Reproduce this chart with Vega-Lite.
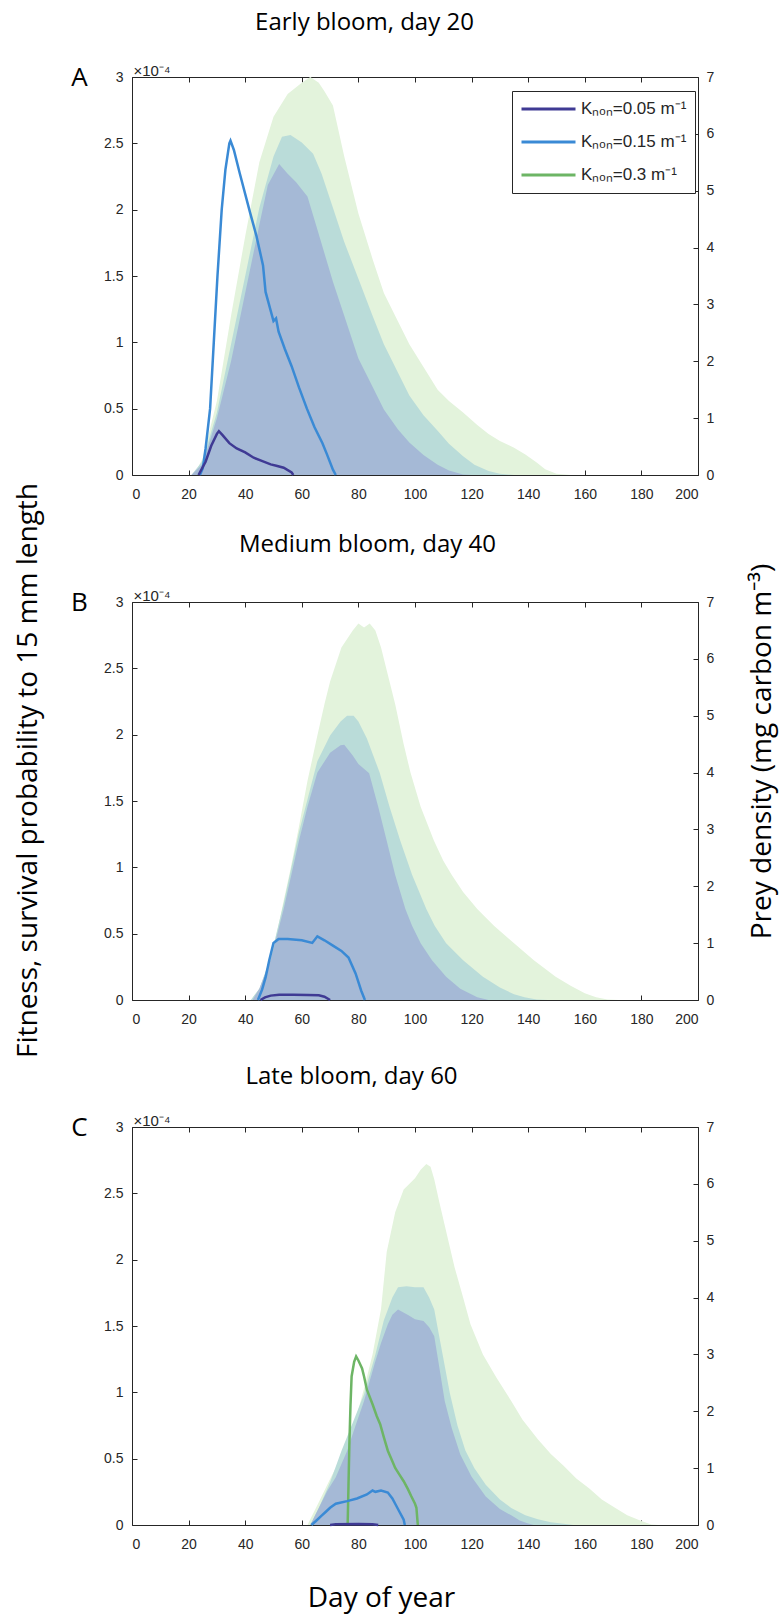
{
  "$schema": "https://vega.github.io/schema/vega-lite/v6.json",
  "background": "white",
  "padding": {"left": 13, "top": 10, "right": 6, "bottom": 4},
  "bounds": "flush",
  "spacing": 127,
  "resolve": {"scale": {"color": "independent"}, "legend": {"color": "independent"}},
  "config": {
    "view": {"stroke": null},
    "axis": {"domainColor": "#262626", "tickColor": "#262626", "labelColor": "#262626", "labelFont": "Liberation Sans", "labelFontSize": 14, "grid": false, "domainWidth": 1, "tickWidth": 1, "zindex": 1}
  },
  "datasets": {
    "preyA": [
      {"K":"0.3","day":0,"prey":0},{"K":"0.3","day":20,"prey":0},{"K":"0.3","day":22,"prey":0},{"K":"0.3","day":25,"prey":0.3},{"K":"0.3","day":30,"prey":1.3},{"K":"0.3","day":35,"prey":2.8},{"K":"0.3","day":40,"prey":4.2},{"K":"0.3","day":45,"prey":5.5},{"K":"0.3","day":50,"prey":6.3},{"K":"0.3","day":55,"prey":6.7},{"K":"0.3","day":60,"prey":6.9},{"K":"0.3","day":63,"prey":7.0},{"K":"0.3","day":66,"prey":6.9},{"K":"0.3","day":68,"prey":6.75},{"K":"0.3","day":71,"prey":6.5},{"K":"0.3","day":75,"prey":5.6},{"K":"0.3","day":80,"prey":4.6},{"K":"0.3","day":85,"prey":3.8},{"K":"0.3","day":89,"prey":3.2},{"K":"0.3","day":94,"prey":2.7},{"K":"0.3","day":98,"prey":2.3},{"K":"0.3","day":103,"prey":1.9},{"K":"0.3","day":108,"prey":1.5},{"K":"0.3","day":112,"prey":1.3},{"K":"0.3","day":117,"prey":1.1},{"K":"0.3","day":122,"prey":0.88},{"K":"0.3","day":126,"prey":0.72},{"K":"0.3","day":130,"prey":0.6},{"K":"0.3","day":135,"prey":0.48},{"K":"0.3","day":139,"prey":0.36},{"K":"0.3","day":143,"prey":0.22},{"K":"0.3","day":146,"prey":0.1},{"K":"0.3","day":150,"prey":0.02},{"K":"0.3","day":155,"prey":0},{"K":"0.3","day":200,"prey":0},
      {"K":"0.15","day":0,"prey":0},{"K":"0.15","day":21,"prey":0},{"K":"0.15","day":25,"prey":0.25},{"K":"0.15","day":30,"prey":1.1},{"K":"0.15","day":35,"prey":2.3},{"K":"0.15","day":40,"prey":3.5},{"K":"0.15","day":45,"prey":4.7},{"K":"0.15","day":50,"prey":5.6},{"K":"0.15","day":53,"prey":5.95},{"K":"0.15","day":56,"prey":5.98},{"K":"0.15","day":60,"prey":5.85},{"K":"0.15","day":64,"prey":5.65},{"K":"0.15","day":67,"prey":5.3},{"K":"0.15","day":71,"prey":4.7},{"K":"0.15","day":75,"prey":4.1},{"K":"0.15","day":80,"prey":3.45},{"K":"0.15","day":85,"prey":2.8},{"K":"0.15","day":89,"prey":2.3},{"K":"0.15","day":94,"prey":1.8},{"K":"0.15","day":98,"prey":1.4},{"K":"0.15","day":103,"prey":1.05},{"K":"0.15","day":108,"prey":0.78},{"K":"0.15","day":112,"prey":0.55},{"K":"0.15","day":117,"prey":0.33},{"K":"0.15","day":121,"prey":0.18},{"K":"0.15","day":126,"prey":0.07},{"K":"0.15","day":130,"prey":0.02},{"K":"0.15","day":135,"prey":0},{"K":"0.15","day":200,"prey":0},
      {"K":"0.05","day":0,"prey":0},{"K":"0.05","day":21,"prey":0},{"K":"0.05","day":25,"prey":0.2},{"K":"0.05","day":30,"prey":1.0},{"K":"0.05","day":35,"prey":2.0},{"K":"0.05","day":40,"prey":3.2},{"K":"0.05","day":45,"prey":4.4},{"K":"0.05","day":48,"prey":5.1},{"K":"0.05","day":52,"prey":5.47},{"K":"0.05","day":55,"prey":5.3},{"K":"0.05","day":58,"prey":5.15},{"K":"0.05","day":62,"prey":4.9},{"K":"0.05","day":65,"prey":4.4},{"K":"0.05","day":68,"prey":3.9},{"K":"0.05","day":71,"prey":3.4},{"K":"0.05","day":75,"prey":2.8},{"K":"0.05","day":80,"prey":2.05},{"K":"0.05","day":85,"prey":1.55},{"K":"0.05","day":89,"prey":1.15},{"K":"0.05","day":94,"prey":0.8},{"K":"0.05","day":98,"prey":0.57},{"K":"0.05","day":103,"prey":0.35},{"K":"0.05","day":108,"prey":0.18},{"K":"0.05","day":112,"prey":0.08},{"K":"0.05","day":117,"prey":0.01},{"K":"0.05","day":120,"prey":0},{"K":"0.05","day":200,"prey":0}
    ],
    "fitA": [
      {"K":"0.15","day":24,"fitness_1e4":0},{"K":"0.15","day":25,"fitness_1e4":0.05},{"K":"0.15","day":26,"fitness_1e4":0.2},{"K":"0.15","day":27.6,"fitness_1e4":0.5},{"K":"0.15","day":28.9,"fitness_1e4":1.0},{"K":"0.15","day":30.2,"fitness_1e4":1.5},{"K":"0.15","day":31.7,"fitness_1e4":2.0},{"K":"0.15","day":33,"fitness_1e4":2.3},{"K":"0.15","day":34.4,"fitness_1e4":2.5},{"K":"0.15","day":34.8,"fitness_1e4":2.52},{"K":"0.15","day":36,"fitness_1e4":2.45},{"K":"0.15","day":38,"fitness_1e4":2.28},{"K":"0.15","day":41.7,"fitness_1e4":1.98},{"K":"0.15","day":44,"fitness_1e4":1.8},{"K":"0.15","day":46.3,"fitness_1e4":1.58},{"K":"0.15","day":47.2,"fitness_1e4":1.38},{"K":"0.15","day":50,"fitness_1e4":1.16},{"K":"0.15","day":50.9,"fitness_1e4":1.18},{"K":"0.15","day":51.8,"fitness_1e4":1.08},{"K":"0.15","day":54,"fitness_1e4":0.95},{"K":"0.15","day":56.4,"fitness_1e4":0.82},{"K":"0.15","day":59,"fitness_1e4":0.66},{"K":"0.15","day":61.8,"fitness_1e4":0.5},{"K":"0.15","day":64.5,"fitness_1e4":0.36},{"K":"0.15","day":67.3,"fitness_1e4":0.24},{"K":"0.15","day":69,"fitness_1e4":0.15},{"K":"0.15","day":71,"fitness_1e4":0.04},{"K":"0.15","day":72,"fitness_1e4":0},
      {"K":"0.05","day":23.5,"fitness_1e4":0},{"K":"0.05","day":26,"fitness_1e4":0.1},{"K":"0.05","day":28,"fitness_1e4":0.22},{"K":"0.05","day":30,"fitness_1e4":0.31},{"K":"0.05","day":30.7,"fitness_1e4":0.33},{"K":"0.05","day":32,"fitness_1e4":0.3},{"K":"0.05","day":34.4,"fitness_1e4":0.24},{"K":"0.05","day":37,"fitness_1e4":0.2},{"K":"0.05","day":40,"fitness_1e4":0.17},{"K":"0.05","day":43,"fitness_1e4":0.13},{"K":"0.05","day":45.4,"fitness_1e4":0.11},{"K":"0.05","day":49,"fitness_1e4":0.08},{"K":"0.05","day":51,"fitness_1e4":0.07},{"K":"0.05","day":53.6,"fitness_1e4":0.055},{"K":"0.05","day":56.4,"fitness_1e4":0.02},{"K":"0.05","day":57,"fitness_1e4":0}
    ],
    "preyB": [
      {"K":"0.3","day":0,"prey":0},{"K":"0.3","day":42,"prey":0},{"K":"0.3","day":45,"prey":0.2},{"K":"0.3","day":48,"prey":0.5},{"K":"0.3","day":50,"prey":0.9},{"K":"0.3","day":53.6,"prey":1.75},{"K":"0.3","day":56,"prey":2.3},{"K":"0.3","day":59,"prey":3.05},{"K":"0.3","day":62,"prey":3.85},{"K":"0.3","day":65.5,"prey":4.65},{"K":"0.3","day":68,"prey":5.2},{"K":"0.3","day":70,"prey":5.6},{"K":"0.3","day":74,"prey":6.2},{"K":"0.3","day":78,"prey":6.5},{"K":"0.3","day":80,"prey":6.62},{"K":"0.3","day":82,"prey":6.55},{"K":"0.3","day":84,"prey":6.62},{"K":"0.3","day":86,"prey":6.5},{"K":"0.3","day":88,"prey":6.2},{"K":"0.3","day":90,"prey":5.8},{"K":"0.3","day":93,"prey":5.2},{"K":"0.3","day":96,"prey":4.5},{"K":"0.3","day":98.4,"prey":4.0},{"K":"0.3","day":102,"prey":3.4},{"K":"0.3","day":106.7,"prey":2.8},{"K":"0.3","day":110,"prey":2.45},{"K":"0.3","day":113,"prey":2.2},{"K":"0.3","day":117,"prey":1.9},{"K":"0.3","day":122,"prey":1.6},{"K":"0.3","day":128,"prey":1.3},{"K":"0.3","day":135,"prey":1.0},{"K":"0.3","day":142,"prey":0.7},{"K":"0.3","day":149.7,"prey":0.41},{"K":"0.3","day":155,"prey":0.25},{"K":"0.3","day":160,"prey":0.12},{"K":"0.3","day":164,"prey":0.05},{"K":"0.3","day":168,"prey":0.01},{"K":"0.3","day":172,"prey":0},{"K":"0.3","day":200,"prey":0},
      {"K":"0.15","day":0,"prey":0},{"K":"0.15","day":42,"prey":0},{"K":"0.15","day":45,"prey":0.2},{"K":"0.15","day":49,"prey":0.75},{"K":"0.15","day":53.6,"prey":1.7},{"K":"0.15","day":59,"prey":2.95},{"K":"0.15","day":65.5,"prey":4.2},{"K":"0.15","day":70,"prey":4.65},{"K":"0.15","day":73.7,"prey":4.9},{"K":"0.15","day":76,"prey":5.0},{"K":"0.15","day":78.3,"prey":5.0},{"K":"0.15","day":80,"prey":4.9},{"K":"0.15","day":83,"prey":4.6},{"K":"0.15","day":87.5,"prey":4.0},{"K":"0.15","day":91,"prey":3.4},{"K":"0.15","day":94.8,"prey":2.8},{"K":"0.15","day":99,"prey":2.2},{"K":"0.15","day":104,"prey":1.6},{"K":"0.15","day":107,"prey":1.3},{"K":"0.15","day":111,"prey":1.0},{"K":"0.15","day":117,"prey":0.7},{"K":"0.15","day":124,"prey":0.41},{"K":"0.15","day":130,"prey":0.22},{"K":"0.15","day":135,"prey":0.1},{"K":"0.15","day":138.7,"prey":0.05},{"K":"0.15","day":143,"prey":0.01},{"K":"0.15","day":147,"prey":0},{"K":"0.15","day":200,"prey":0},
      {"K":"0.05","day":0,"prey":0},{"K":"0.05","day":42.6,"prey":0},{"K":"0.05","day":45,"prey":0.2},{"K":"0.05","day":49,"prey":0.71},{"K":"0.05","day":53.6,"prey":1.6},{"K":"0.05","day":59,"prey":2.8},{"K":"0.05","day":62,"prey":3.4},{"K":"0.05","day":65.5,"prey":4.0},{"K":"0.05","day":70,"prey":4.35},{"K":"0.05","day":73.7,"prey":4.48},{"K":"0.05","day":75,"prey":4.49},{"K":"0.05","day":78,"prey":4.3},{"K":"0.05","day":80,"prey":4.15},{"K":"0.05","day":83.8,"prey":3.99},{"K":"0.05","day":87,"prey":3.4},{"K":"0.05","day":90,"prey":2.8},{"K":"0.05","day":93,"prey":2.2},{"K":"0.05","day":96.6,"prey":1.6},{"K":"0.05","day":99,"prey":1.3},{"K":"0.05","day":102,"prey":1.0},{"K":"0.05","day":106,"prey":0.7},{"K":"0.05","day":111,"prey":0.41},{"K":"0.05","day":116,"prey":0.2},{"K":"0.05","day":122,"prey":0.05},{"K":"0.05","day":126,"prey":0},{"K":"0.05","day":200,"prey":0}
    ],
    "fitB": [
      {"K":"0.15","day":44.5,"fitness_1e4":0},{"K":"0.15","day":46,"fitness_1e4":0.08},{"K":"0.15","day":47.2,"fitness_1e4":0.17},{"K":"0.15","day":48.5,"fitness_1e4":0.3},{"K":"0.15","day":50,"fitness_1e4":0.43},{"K":"0.15","day":51.8,"fitness_1e4":0.46},{"K":"0.15","day":55,"fitness_1e4":0.46},{"K":"0.15","day":60,"fitness_1e4":0.45},{"K":"0.15","day":63.7,"fitness_1e4":0.43},{"K":"0.15","day":65.5,"fitness_1e4":0.48},{"K":"0.15","day":68,"fitness_1e4":0.45},{"K":"0.15","day":71,"fitness_1e4":0.41},{"K":"0.15","day":74,"fitness_1e4":0.37},{"K":"0.15","day":76.5,"fitness_1e4":0.32},{"K":"0.15","day":79,"fitness_1e4":0.2},{"K":"0.15","day":81,"fitness_1e4":0.07},{"K":"0.15","day":82.3,"fitness_1e4":0},
      {"K":"0.05","day":45.4,"fitness_1e4":0},{"K":"0.05","day":47,"fitness_1e4":0.02},{"K":"0.05","day":49,"fitness_1e4":0.033},{"K":"0.05","day":52,"fitness_1e4":0.04},{"K":"0.05","day":57,"fitness_1e4":0.04},{"K":"0.05","day":62,"fitness_1e4":0.038},{"K":"0.05","day":66,"fitness_1e4":0.035},{"K":"0.05","day":68,"fitness_1e4":0.025},{"K":"0.05","day":70,"fitness_1e4":0}
    ],
    "preyC": [
      {"K":"0.3","day":0,"prey":0},{"K":"0.3","day":62,"prey":0},{"K":"0.3","day":66,"prey":0.4},{"K":"0.3","day":70.3,"prey":0.84},{"K":"0.3","day":74,"prey":1.2},{"K":"0.3","day":77.6,"prey":1.6},{"K":"0.3","day":82,"prey":2.4},{"K":"0.3","day":85,"prey":3.0},{"K":"0.3","day":88,"prey":3.8},{"K":"0.3","day":90,"prey":4.8},{"K":"0.3","day":93,"prey":5.5},{"K":"0.3","day":96,"prey":5.9},{"K":"0.3","day":100,"prey":6.1},{"K":"0.3","day":102,"prey":6.25},{"K":"0.3","day":104,"prey":6.35},{"K":"0.3","day":105.5,"prey":6.3},{"K":"0.3","day":106.8,"prey":6.08},{"K":"0.3","day":108.5,"prey":5.7},{"K":"0.3","day":110.5,"prey":5.27},{"K":"0.3","day":114,"prey":4.53},{"K":"0.3","day":117,"prey":4.0},{"K":"0.3","day":119.6,"prey":3.53},{"K":"0.3","day":124,"prey":3.0},{"K":"0.3","day":128.8,"prey":2.59},{"K":"0.3","day":134,"prey":2.18},{"K":"0.3","day":138,"prey":1.85},{"K":"0.3","day":143.4,"prey":1.51},{"K":"0.3","day":148,"prey":1.25},{"K":"0.3","day":152.5,"prey":1.04},{"K":"0.3","day":157,"prey":0.82},{"K":"0.3","day":161.6,"prey":0.64},{"K":"0.3","day":166,"prey":0.45},{"K":"0.3","day":170.8,"prey":0.3},{"K":"0.3","day":175,"prey":0.17},{"K":"0.3","day":180,"prey":0.07},{"K":"0.3","day":183.5,"prey":0.01},{"K":"0.3","day":186,"prey":0},{"K":"0.3","day":200,"prey":0},
      {"K":"0.15","day":0,"prey":0},{"K":"0.15","day":63,"prey":0},{"K":"0.15","day":66,"prey":0.3},{"K":"0.15","day":70,"prey":0.75},{"K":"0.15","day":74,"prey":1.3},{"K":"0.15","day":78,"prey":1.8},{"K":"0.15","day":82,"prey":2.3},{"K":"0.15","day":86,"prey":3.0},{"K":"0.15","day":89,"prey":3.6},{"K":"0.15","day":92,"prey":4.0},{"K":"0.15","day":94,"prey":4.18},{"K":"0.15","day":97,"prey":4.2},{"K":"0.15","day":100,"prey":4.18},{"K":"0.15","day":103,"prey":4.18},{"K":"0.15","day":105,"prey":4.0},{"K":"0.15","day":106.8,"prey":3.79},{"K":"0.15","day":109,"prey":3.2},{"K":"0.15","day":112.3,"prey":2.32},{"K":"0.15","day":115,"prey":1.75},{"K":"0.15","day":117.8,"prey":1.31},{"K":"0.15","day":121,"prey":1.0},{"K":"0.15","day":125,"prey":0.71},{"K":"0.15","day":130,"prey":0.45},{"K":"0.15","day":134,"prey":0.3},{"K":"0.15","day":139,"prey":0.17},{"K":"0.15","day":143.4,"prey":0.1},{"K":"0.15","day":148,"prey":0.05},{"K":"0.15","day":152.5,"prey":0.02},{"K":"0.15","day":156,"prey":0},{"K":"0.15","day":200,"prey":0},
      {"K":"0.05","day":0,"prey":0},{"K":"0.05","day":63,"prey":0},{"K":"0.05","day":66,"prey":0.3},{"K":"0.05","day":69,"prey":0.6},{"K":"0.05","day":72,"prey":0.84},{"K":"0.05","day":76,"prey":1.3},{"K":"0.05","day":79,"prey":1.75},{"K":"0.05","day":82,"prey":2.18},{"K":"0.05","day":85.8,"prey":2.85},{"K":"0.05","day":88,"prey":3.2},{"K":"0.05","day":90.4,"prey":3.53},{"K":"0.05","day":92,"prey":3.7},{"K":"0.05","day":94,"prey":3.79},{"K":"0.05","day":97.7,"prey":3.69},{"K":"0.05","day":100,"prey":3.62},{"K":"0.05","day":103,"prey":3.59},{"K":"0.05","day":105,"prey":3.48},{"K":"0.05","day":106.8,"prey":3.32},{"K":"0.05","day":108.5,"prey":2.8},{"K":"0.05","day":110.5,"prey":2.18},{"K":"0.05","day":113,"prey":1.7},{"K":"0.05","day":116,"prey":1.24},{"K":"0.05","day":120,"prey":0.85},{"K":"0.05","day":125,"prey":0.5},{"K":"0.05","day":130,"prey":0.28},{"K":"0.05","day":134,"prey":0.17},{"K":"0.05","day":137,"prey":0.08},{"K":"0.05","day":139.7,"prey":0.03},{"K":"0.05","day":142,"prey":0},{"K":"0.05","day":200,"prey":0}
    ],
    "fitC": [
      {"K":"0.3","day":76.2,"fitness_1e4":0},{"K":"0.3","day":76.5,"fitness_1e4":0.3},{"K":"0.3","day":76.8,"fitness_1e4":0.6},{"K":"0.3","day":77.2,"fitness_1e4":0.9},{"K":"0.3","day":77.6,"fitness_1e4":1.12},{"K":"0.3","day":78.5,"fitness_1e4":1.23},{"K":"0.3","day":79.2,"fitness_1e4":1.27},{"K":"0.3","day":80,"fitness_1e4":1.24},{"K":"0.3","day":81.3,"fitness_1e4":1.18},{"K":"0.3","day":82,"fitness_1e4":1.12},{"K":"0.3","day":83,"fitness_1e4":1.02},{"K":"0.3","day":85,"fitness_1e4":0.91},{"K":"0.3","day":86.5,"fitness_1e4":0.82},{"K":"0.3","day":87.7,"fitness_1e4":0.76},{"K":"0.3","day":89,"fitness_1e4":0.66},{"K":"0.3","day":90.4,"fitness_1e4":0.56},{"K":"0.3","day":92,"fitness_1e4":0.48},{"K":"0.3","day":93,"fitness_1e4":0.43},{"K":"0.3","day":94.5,"fitness_1e4":0.38},{"K":"0.3","day":96,"fitness_1e4":0.33},{"K":"0.3","day":97.5,"fitness_1e4":0.27},{"K":"0.3","day":98.6,"fitness_1e4":0.22},{"K":"0.3","day":100,"fitness_1e4":0.16},{"K":"0.3","day":100.5,"fitness_1e4":0.13},{"K":"0.3","day":100.8,"fitness_1e4":0.05},{"K":"0.3","day":101,"fitness_1e4":0},
      {"K":"0.15","day":63.4,"fitness_1e4":0},{"K":"0.15","day":65,"fitness_1e4":0.03},{"K":"0.15","day":67,"fitness_1e4":0.07},{"K":"0.15","day":68.5,"fitness_1e4":0.1},{"K":"0.15","day":70,"fitness_1e4":0.13},{"K":"0.15","day":72,"fitness_1e4":0.16},{"K":"0.15","day":76,"fitness_1e4":0.18},{"K":"0.15","day":79.5,"fitness_1e4":0.2},{"K":"0.15","day":83,"fitness_1e4":0.23},{"K":"0.15","day":85,"fitness_1e4":0.26},{"K":"0.15","day":86,"fitness_1e4":0.25},{"K":"0.15","day":88,"fitness_1e4":0.26},{"K":"0.15","day":90.4,"fitness_1e4":0.245},{"K":"0.15","day":92,"fitness_1e4":0.2},{"K":"0.15","day":93,"fitness_1e4":0.16},{"K":"0.15","day":94.5,"fitness_1e4":0.1},{"K":"0.15","day":96,"fitness_1e4":0.04},{"K":"0.15","day":96.4,"fitness_1e4":0},
      {"K":"0.05","day":70,"fitness_1e4":0},{"K":"0.05","day":72,"fitness_1e4":0.005},{"K":"0.05","day":80,"fitness_1e4":0.008},{"K":"0.05","day":85,"fitness_1e4":0.006},{"K":"0.05","day":87,"fitness_1e4":0}
    ]
  },
  "vconcat": [
    {
      "width": 566, "height": 398,
      "resolve": {"scale": {"y": "independent"}, "axis": {"x": "independent"}},
      "layer": [
        {
          "data": {"name": "preyA"},
          "encoding": {
            "x": {"field": "day", "type": "quantitative", "scale": {"domain": [0, 200], "nice": false}, "axis": {"orient": "bottom", "values": [0,20,40,60,80,100,120,140,160,180,200], "format": "d", "title": null, "tickSize": -5, "labelPadding": 17}},
            "y": {"field": "prey", "type": "quantitative", "scale": {"domain": [0, 7], "nice": false}, "axis": {"orient": "right", "values": [0,1,2,3,4,5,6,7], "format": "d", "title": null, "tickSize": -5, "labelPadding": 13}}
          },
          "layer": [
            {"transform": [{"filter": "datum.K == '0.3'"}], "mark": {"type": "area", "color": "#e3f3dc"}},
            {"transform": [{"filter": "datum.K == '0.15'"}], "mark": {"type": "area", "color": "#badcd9"}},
            {"transform": [{"filter": "datum.K == '0.05'"}], "mark": {"type": "area", "color": "#a5b9d6"}}
          ]
        },
        {
          "data": {"name": "fitA"},
          "mark": {"type": "line", "strokeWidth": 2.5},
          "encoding": {
            "x": {"field": "day", "type": "quantitative", "scale": {"domain": [0, 200], "nice": false}, "axis": {"orient": "top", "values": [0,20,40,60,80,100,120,140,160,180,200], "labels": false, "tickSize": -5, "title": "A", "titleFont": "Open Sans", "titleFontSize": 26, "titleFontWeight": "normal", "titleColor": "black", "titleAngle": 0, "titleX": -53, "titleY": 8, "titleAlign": "center", "titleBaseline": "alphabetic"}},
            "y": {"field": "fitness_1e4", "type": "quantitative", "scale": {"domain": [0, 3], "nice": false}, "axis": {"orient": "left", "values": [0,0.5,1,1.5,2,2.5,3], "format": "~g", "tickSize": -5, "labelPadding": 14, "title": "×10⁻⁴", "titleFont": "Liberation Sans", "titleFontSize": 15, "titleFontWeight": "normal", "titleColor": "#262626", "titleAngle": 0, "titleX": 1, "titleY": -2, "titleAlign": "left", "titleBaseline": "alphabetic"}},
            "color": {"field": "K", "type": "nominal", "scale": {"domain": ["0.05", "0.15", "0.3"], "range": ["#3f3a94", "#3a8ad5", "#6db565"]},
              "legend": {"orient": "none", "legendX": 380, "legendY": 14, "title": null, "symbolType": "stroke", "symbolSize": 2916, "symbolStrokeWidth": 3, "clipHeight": 20, "labelFont": "Liberation Sans", "labelFontSize": 17, "labelColor": "#262626", "labelExpr": "'Kₙₒₙ=' + datum.label + ' m⁻¹'", "strokeColor": "#262626", "fillColor": "white", "padding": 8, "rowPadding": 13, "labelOffset": 4}}
          }
        },
        {
          "data": {"name": "fitA"},
          "mark": {"type": "line", "opacity": 0},
          "encoding": {
            "x": {"field": "day", "type": "quantitative", "scale": {"domain": [0, 200], "nice": false}, "axis": {"orient": "top", "domain": false, "ticks": false, "labels": false, "title": "Early bloom, day 20", "titleFont": "Open Sans", "titleFontSize": 24, "titleFontWeight": "normal", "titleColor": "black", "titleAngle": 0, "titleX": 232, "titleY": -48, "titleAlign": "center", "titleBaseline": "alphabetic"}},
            "y": {"field": "fitness_1e4", "type": "quantitative", "scale": {"domain": [0, 3], "nice": false}, "axis": null}
          }
        }
      ]
    },
    {
      "width": 566, "height": 398,
      "resolve": {"scale": {"y": "independent"}, "axis": {"x": "independent"}},
      "layer": [
        {
          "data": {"name": "preyB"},
          "encoding": {
            "x": {"field": "day", "type": "quantitative", "scale": {"domain": [0, 200], "nice": false}, "axis": {"orient": "bottom", "values": [0,20,40,60,80,100,120,140,160,180,200], "format": "d", "title": null, "tickSize": -5, "labelPadding": 17}},
            "y": {"field": "prey", "type": "quantitative", "scale": {"domain": [0, 7], "nice": false}, "axis": {"orient": "right", "values": [0,1,2,3,4,5,6,7], "format": "d", "tickSize": -5, "labelPadding": 13, "title": "Prey density (mg carbon m⁻³)", "titleFont": "Open Sans", "titleFontSize": 28, "titleFontWeight": "normal", "titleColor": "black", "titleAngle": 270, "titleX": 72, "titleY": 149, "titleAlign": "center", "titleBaseline": "alphabetic"}}
          },
          "layer": [
            {"transform": [{"filter": "datum.K == '0.3'"}], "mark": {"type": "area", "color": "#e3f3dc"}},
            {"transform": [{"filter": "datum.K == '0.15'"}], "mark": {"type": "area", "color": "#badcd9"}},
            {"transform": [{"filter": "datum.K == '0.05'"}], "mark": {"type": "area", "color": "#a5b9d6"}}
          ]
        },
        {
          "data": {"name": "fitB"},
          "mark": {"type": "line", "strokeWidth": 2.5},
          "encoding": {
            "x": {"field": "day", "type": "quantitative", "scale": {"domain": [0, 200], "nice": false}, "axis": {"orient": "top", "values": [0,20,40,60,80,100,120,140,160,180,200], "labels": false, "tickSize": -5, "title": "B", "titleFont": "Open Sans", "titleFontSize": 26, "titleFontWeight": "normal", "titleColor": "black", "titleAngle": 0, "titleX": -53, "titleY": 8, "titleAlign": "center", "titleBaseline": "alphabetic"}},
            "y": {"field": "fitness_1e4", "type": "quantitative", "scale": {"domain": [0, 3], "nice": false}, "axis": {"orient": "left", "values": [0,0.5,1,1.5,2,2.5,3], "format": "~g", "tickSize": -5, "labelPadding": 14, "title": "×10⁻⁴", "titleFont": "Liberation Sans", "titleFontSize": 15, "titleFontWeight": "normal", "titleColor": "#262626", "titleAngle": 0, "titleX": 1, "titleY": -2, "titleAlign": "left", "titleBaseline": "alphabetic"}},
            "color": {"field": "K", "type": "nominal", "scale": {"domain": ["0.05", "0.15", "0.3"], "range": ["#3f3a94", "#3a8ad5", "#6db565"]}, "legend": null}
          }
        },
        {
          "data": {"name": "fitB"},
          "mark": {"type": "line", "opacity": 0},
          "encoding": {
            "x": {"field": "day", "type": "quantitative", "scale": {"domain": [0, 200], "nice": false}, "axis": {"orient": "top", "domain": false, "ticks": false, "labels": false, "title": "Medium bloom, day 40", "titleFont": "Open Sans", "titleFontSize": 24, "titleFontWeight": "normal", "titleColor": "black", "titleAngle": 0, "titleX": 235, "titleY": -51, "titleAlign": "center", "titleBaseline": "alphabetic"}},
            "y": {"field": "fitness_1e4", "type": "quantitative", "scale": {"domain": [0, 3], "nice": false}, "axis": {"orient": "left", "domain": false, "ticks": false, "labels": false, "title": "Fitness, survival probability to 15 mm length", "titleFont": "Open Sans", "titleFontSize": 28, "titleFontWeight": "normal", "titleColor": "black", "titleAngle": 270, "titleX": -96, "titleY": 168, "titleAlign": "center", "titleBaseline": "alphabetic"}}
          }
        }
      ]
    },
    {
      "width": 566, "height": 398,
      "resolve": {"scale": {"y": "independent"}, "axis": {"x": "independent"}},
      "layer": [
        {
          "data": {"name": "preyC"},
          "encoding": {
            "x": {"field": "day", "type": "quantitative", "scale": {"domain": [0, 200], "nice": false}, "axis": {"orient": "bottom", "values": [0,20,40,60,80,100,120,140,160,180,200], "format": "d", "tickSize": -5, "labelPadding": 17, "title": "Day of year", "titleFont": "Open Sans", "titleFontSize": 28, "titleFontWeight": "normal", "titleColor": "black", "titleX": 249, "titleY": 81, "titleAlign": "center", "titleBaseline": "alphabetic"}},
            "y": {"field": "prey", "type": "quantitative", "scale": {"domain": [0, 7], "nice": false}, "axis": {"orient": "right", "values": [0,1,2,3,4,5,6,7], "format": "d", "title": null, "tickSize": -5, "labelPadding": 13}}
          },
          "layer": [
            {"transform": [{"filter": "datum.K == '0.3'"}], "mark": {"type": "area", "color": "#e3f3dc"}},
            {"transform": [{"filter": "datum.K == '0.15'"}], "mark": {"type": "area", "color": "#badcd9"}},
            {"transform": [{"filter": "datum.K == '0.05'"}], "mark": {"type": "area", "color": "#a5b9d6"}}
          ]
        },
        {
          "data": {"name": "fitC"},
          "mark": {"type": "line", "strokeWidth": 2.5},
          "encoding": {
            "x": {"field": "day", "type": "quantitative", "scale": {"domain": [0, 200], "nice": false}, "axis": {"orient": "top", "values": [0,20,40,60,80,100,120,140,160,180,200], "labels": false, "tickSize": -5, "title": "C", "titleFont": "Open Sans", "titleFontSize": 26, "titleFontWeight": "normal", "titleColor": "black", "titleAngle": 0, "titleX": -53, "titleY": 8, "titleAlign": "center", "titleBaseline": "alphabetic"}},
            "y": {"field": "fitness_1e4", "type": "quantitative", "scale": {"domain": [0, 3], "nice": false}, "axis": {"orient": "left", "values": [0,0.5,1,1.5,2,2.5,3], "format": "~g", "tickSize": -5, "labelPadding": 14, "title": "×10⁻⁴", "titleFont": "Liberation Sans", "titleFontSize": 15, "titleFontWeight": "normal", "titleColor": "#262626", "titleAngle": 0, "titleX": 1, "titleY": -2, "titleAlign": "left", "titleBaseline": "alphabetic"}},
            "color": {"field": "K", "type": "nominal", "scale": {"domain": ["0.05", "0.15", "0.3"], "range": ["#3f3a94", "#3a8ad5", "#6db565"]}, "legend": null}
          }
        },
        {
          "data": {"name": "fitC"},
          "mark": {"type": "line", "opacity": 0},
          "encoding": {
            "x": {"field": "day", "type": "quantitative", "scale": {"domain": [0, 200], "nice": false}, "axis": {"orient": "top", "domain": false, "ticks": false, "labels": false, "title": "Late bloom, day 60", "titleFont": "Open Sans", "titleFontSize": 24, "titleFontWeight": "normal", "titleColor": "black", "titleAngle": 0, "titleX": 219, "titleY": -44, "titleAlign": "center", "titleBaseline": "alphabetic"}},
            "y": {"field": "fitness_1e4", "type": "quantitative", "scale": {"domain": [0, 3], "nice": false}, "axis": null}
          }
        }
      ]
    }
  ]
}
